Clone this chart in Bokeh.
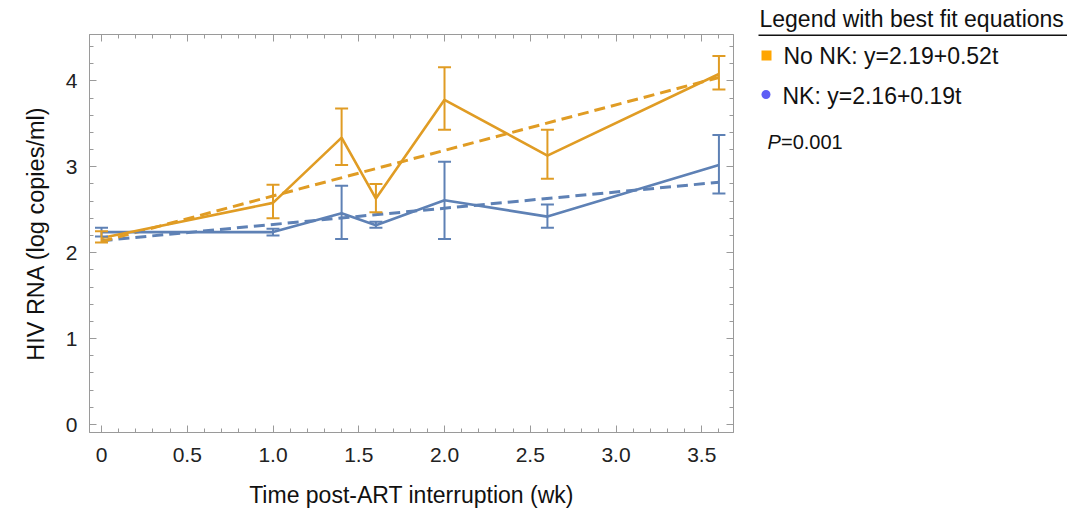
from bokeh.plotting import figure
from bokeh.models import (Range1d, LinearAxis, FixedTicker, Whisker, TeeHead,
                          ColumnDataSource)
from bokeh.layouts import row
from bokeh.core.properties import value
from bokeh.embed import file_html
from bokeh.resources import INLINE

# ---------------- data ----------------
times = [0, 1.0, 1.4, 1.6, 2.0, 2.6, 3.6]
no_nk_mean = [2.17, 2.58, 3.34, 2.63, 3.78, 3.13, 4.08]
no_nk_upper = [2.25, 2.79, 3.68, 2.80, 4.16, 3.43, 4.29]
no_nk_lower = [2.12, 2.40, 3.02, 2.47, 3.43, 2.86, 3.90]
nk_mean = [2.24, 2.24, 2.46, 2.32, 2.61, 2.42, 3.02]
nk_upper = [2.29, 2.28, 2.78, 2.36, 3.06, 2.56, 3.37]
nk_lower = [2.19, 2.20, 2.16, 2.29, 2.16, 2.29, 2.69]

fit_t = [0, 3.6]
no_nk_fit = [2.13, 4.04]
nk_fit = [2.14, 2.82]

x_ticks = [0, 0.5, 1.0, 1.5, 2.0, 2.5, 3.0, 3.5]
x_tick_labels = ["0", "0.5", "1.0", "1.5", "2.0", "2.5", "3.0", "3.5"]
y_ticks = [0, 1, 2, 3, 4]
y_tick_labels = ["0", "1", "2", "3", "4"]

legend_title = "Legend with best fit equations"
legend_labels = ["No NK: y=2.19+0.52t", "NK: y=2.16+0.19t"]
p_label = ["P", "=0.001"]

ORANGE = "#E09C24"
BLUE = "#5E81B5"
FRAME = "#9a9a9a"
FONT = "Liberation Sans"

x_minor = [round(i * 0.1, 2) for i in range(-1, 38)]
y_minor = [round(i * 0.2, 2) for i in range(-1, 24)]

# ---------------- main plot ----------------
p = figure(width=745, height=514, output_backend="svg", toolbar_location=None,
           title_location=None,
           x_range=Range1d(-0.07, 3.685), y_range=Range1d(-0.093, 4.54),
           min_border_left=89, min_border_right=12, min_border_top=34,
           min_border_bottom=82, x_axis_label="Time post-ART interruption (wk)",
           y_axis_label="HIV RNA (log copies/ml)")
p.grid.visible = False
p.outline_line_color = FRAME
p.background_fill_color = "white"
p.border_fill_color = "white"

p.xaxis.ticker = FixedTicker(ticks=x_ticks, minor_ticks=x_minor)
p.yaxis.ticker = FixedTicker(ticks=y_ticks, minor_ticks=y_minor)
p.xaxis.major_label_overrides = {t: l for t, l in zip(x_ticks, x_tick_labels)}
p.yaxis.major_label_overrides = {t: l for t, l in zip(y_ticks, y_tick_labels)}

for ax in [p.xaxis[0], p.yaxis[0]]:
    ax.axis_line_color = FRAME
    ax.major_tick_line_color = FRAME
    ax.minor_tick_line_color = FRAME
    ax.major_tick_in = 7
    ax.major_tick_out = 0
    ax.minor_tick_in = 4
    ax.minor_tick_out = 0
    ax.major_label_text_font = FONT
    ax.major_label_text_font_size = "21px"
    ax.major_label_text_color = "#222222"
    ax.axis_label_text_font = FONT
    ax.axis_label_text_font_size = "23px"
    ax.axis_label_text_font_style = "normal"
    ax.axis_label_text_color = "#111111"

p.yaxis.axis_label_text_font_size = "23.5px"
p.xaxis.major_label_standoff = 15
p.xaxis.axis_label_standoff = 17
p.yaxis.major_label_standoff = 12
p.yaxis.axis_label_standoff = 14

# top and right frame ticks
top = LinearAxis(ticker=FixedTicker(ticks=x_ticks, minor_ticks=x_minor),
                 major_label_overrides={t: "" for t in x_ticks})
right = LinearAxis(ticker=FixedTicker(ticks=y_ticks, minor_ticks=y_minor),
                   major_label_overrides={t: "" for t in y_ticks})
for ax in [top, right]:
    ax.axis_line_color = FRAME
    ax.major_tick_line_color = FRAME
    ax.minor_tick_line_color = FRAME
    ax.major_tick_in = 7
    ax.major_tick_out = 0
    ax.minor_tick_in = 4
    ax.minor_tick_out = 0
    ax.major_label_text_font_size = "1px"
    ax.major_label_standoff = 0
p.add_layout(top, "above")
p.add_layout(right, "right")

# error bars
src_no = ColumnDataSource(dict(t=times, m=no_nk_mean, up=no_nk_upper, lo=no_nk_lower))
src_nk = ColumnDataSource(dict(t=times, m=nk_mean, up=nk_upper, lo=nk_lower))

for src, col in [(src_nk, BLUE), (src_no, ORANGE)]:
    w = Whisker(source=src, base="t", upper="up", lower="lo", dimension="height",
                line_color=col, line_width=2,
                upper_head=TeeHead(size=13, line_color=col, line_width=2),
                lower_head=TeeHead(size=13, line_color=col, line_width=2),
                level="glyph")
    p.add_layout(w)

# fit lines (dashed)
p.line(fit_t, nk_fit, line_color=BLUE, line_width=3, line_dash="11 6")
p.line(fit_t, no_nk_fit, line_color=ORANGE, line_width=3, line_dash="11 6")

# mean lines
p.line("t", "m", source=src_nk, line_color=BLUE, line_width=2.6)
p.line("t", "m", source=src_no, line_color=ORANGE, line_width=2.6)

# ---------------- legend panel ----------------
# same vertical borders as the main plot; ranges expressed in page pixels
lg = figure(width=322, height=514, output_backend="svg", toolbar_location=None,
            x_axis_location=None, y_axis_location=None,
            x_range=Range1d(745, 1067), y_range=Range1d(432, 34),
            min_border_left=0, min_border_right=0, min_border_top=34,
            min_border_bottom=82, title=legend_title)
lg.grid.visible = False
lg.outline_line_color = None
lg.title.text_font = FONT
lg.title.text_font_size = "23px"
lg.title.text_font_style = "normal"
lg.title.text_color = "#111111"
lg.title.align = "left"
lg.title.offset = 14
lg.title.standoff = 6

lg.segment(x0=[758], y0=[34.6], x1=[1067], y1=[34.6], line_color="#111111", line_width=2)

lg.scatter(x=[766], y=[55], marker="square", size=10, fill_color="#FFA500",
           line_color=None)
lg.text(x=[783], y=[55.5], text=[legend_labels[0]], text_font=value(FONT),
        text_font_size="23px", text_baseline="middle", text_color="#111111")

lg.scatter(x=[765.5], y=[94], marker="circle", size=9, fill_color="#5E5EF5",
           line_color=None)
lg.text(x=[782], y=[95.5], text=[legend_labels[1]], text_font=value(FONT),
        text_font_size="23px", text_baseline="middle", text_color="#111111")

lg.text(x=[767], y=[141], text=[p_label[0]], text_font=value(FONT),
        text_font_size="20px", text_font_style="italic", text_baseline="middle",
        text_color="#111111")
lg.text(x=[780.5], y=[141], text=[p_label[1]], text_font=value(FONT),
        text_font_size="20px", text_baseline="middle", text_color="#111111")

layout = row(p, lg, spacing=0)
open("out.html", "w").write(file_html(layout, INLINE))
